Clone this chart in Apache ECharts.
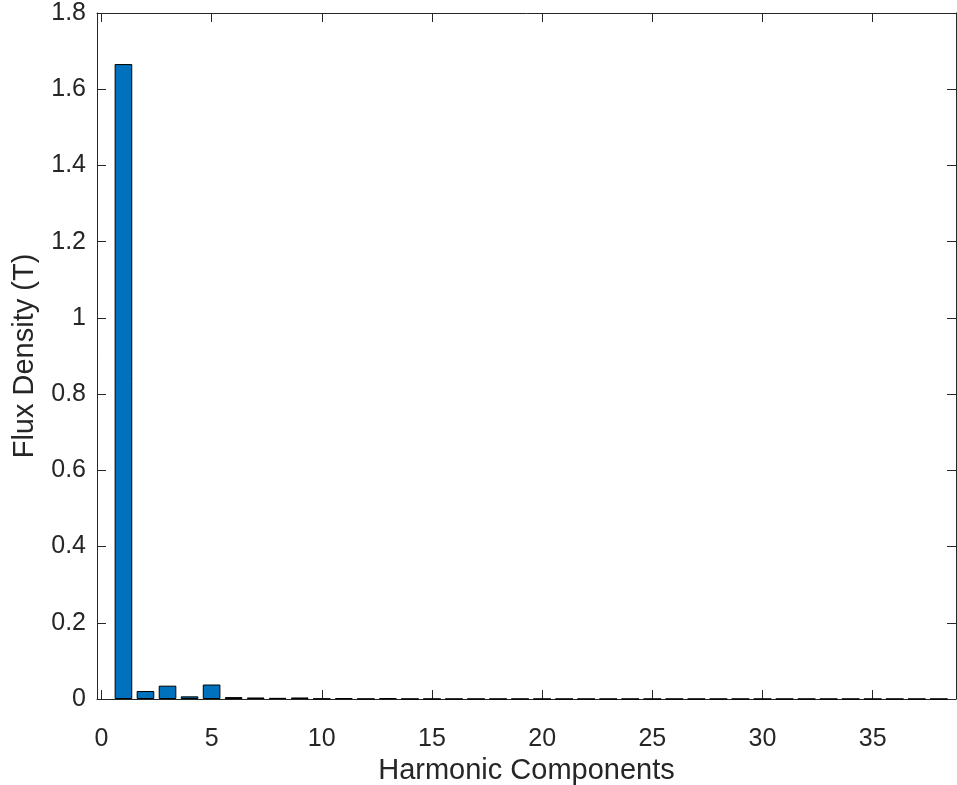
<!DOCTYPE html>
<html>
<head>
<meta charset="utf-8">
<script src="https://cdn.jsdelivr.net/npm/echarts@6/dist/echarts.min.js"></script>
<style>
html,body{margin:0;padding:0;background:#fff;}
#chart{width:957px;height:785px;}
</style>
</head>
<body>
<div id="chart"></div>
<script>
// Harmonic numbers (categories)
var harmonics = [];
for (var h = 1; h <= 38; h++) harmonics.push(h);
// Flux density amplitudes (T)
var fluxValues = [
  1.666, 0.021, 0.035, 0.007, 0.038, 0.005, 0.004, 0.003, 0.004, 0.001,
  0.002, 0.0005, 0.002, 0.0004, 0.0004, 0.0003, 0.0003, 0.0003, 0.0003, 0.0003,
  0.0002, 0.0002, 0.0002, 0.0002, 0.0002, 0.0002, 0.0002, 0.0002, 0.0002, 0.0002,
  0.0002, 0.0002, 0.0002, 0.0002, 0.0002, 0.0002, 0.0002, 0.0002
];
var xTickValues = [0, 5, 10, 15, 20, 25, 30, 35];
var yTickValues = [0, 0.2, 0.4, 0.6, 0.8, 1, 1.2, 1.4, 1.6, 1.8];

var axisColor = '#262626';
var fontFam = '"Liberation Sans", Arial, Helvetica, sans-serif';

var seriesData = harmonics.map(function (h, i) { return [h, fluxValues[i]]; });

var chart = echarts.init(document.getElementById('chart'), null, {renderer: 'canvas'});
chart.setOption({
  animation: false,
  backgroundColor: '#ffffff',
  grid: {left: 97, right: 1, top: 13, bottom: 86, containLabel: false, outerBoundsMode: 'none'},
  xAxis: [{
    type: 'value', position: 'bottom', min: -0.2, max: 38.78,
    name: 'Harmonic Components', nameLocation: 'middle', nameGap: 56,
    nameTextStyle: {color: axisColor, fontSize: 29, fontFamily: fontFam},
    axisLine: {show: true, onZero: false, lineStyle: {color: axisColor, width: 1}},
    axisTick: {show: true, inside: true, length: 9, customValues: xTickValues, lineStyle: {color: axisColor}},
    axisLabel: {show: true, customValues: xTickValues, margin: 28, color: axisColor, fontSize: 25, fontFamily: fontFam},
    splitLine: {show: false}
  }, {
    type: 'value', position: 'top', min: -0.2, max: 38.78,
    axisLine: {show: true, onZero: false, lineStyle: {color: axisColor, width: 1}},
    axisTick: {show: true, inside: true, length: 9, customValues: xTickValues, lineStyle: {color: axisColor}},
    axisLabel: {show: false},
    splitLine: {show: false}
  }],
  yAxis: [{
    type: 'value', position: 'left', min: 0, max: 1.8, interval: 0.2,
    name: 'Flux Density (T)', nameLocation: 'middle', nameGap: 58, nameRotate: 90,
    nameTextStyle: {color: axisColor, fontSize: 29, fontFamily: fontFam},
    axisLine: {show: true, onZero: false, lineStyle: {color: axisColor, width: 1}},
    axisTick: {show: true, inside: true, length: 9, lineStyle: {color: axisColor}},
    axisLabel: {show: true, margin: 11, padding: [8, 0, 0, 0], color: axisColor, fontSize: 25, fontFamily: fontFam},
    splitLine: {show: false}
  }, {
    type: 'value', position: 'right', min: 0, max: 1.8, interval: 0.2,
    axisLine: {show: true, onZero: false, lineStyle: {color: axisColor, width: 1}},
    axisTick: {show: true, inside: true, length: 9, lineStyle: {color: axisColor}},
    axisLabel: {show: false},
    splitLine: {show: false}
  }],
  series: [{
    type: 'bar',
    xAxisIndex: 0, yAxisIndex: 0,
    data: seriesData,
    barWidth: '80%',
    itemStyle: {color: '#0072BD', borderColor: '#000000', borderWidth: 1},
    emphasis: {disabled: true}
  }]
});
</script>
</body>
</html>
